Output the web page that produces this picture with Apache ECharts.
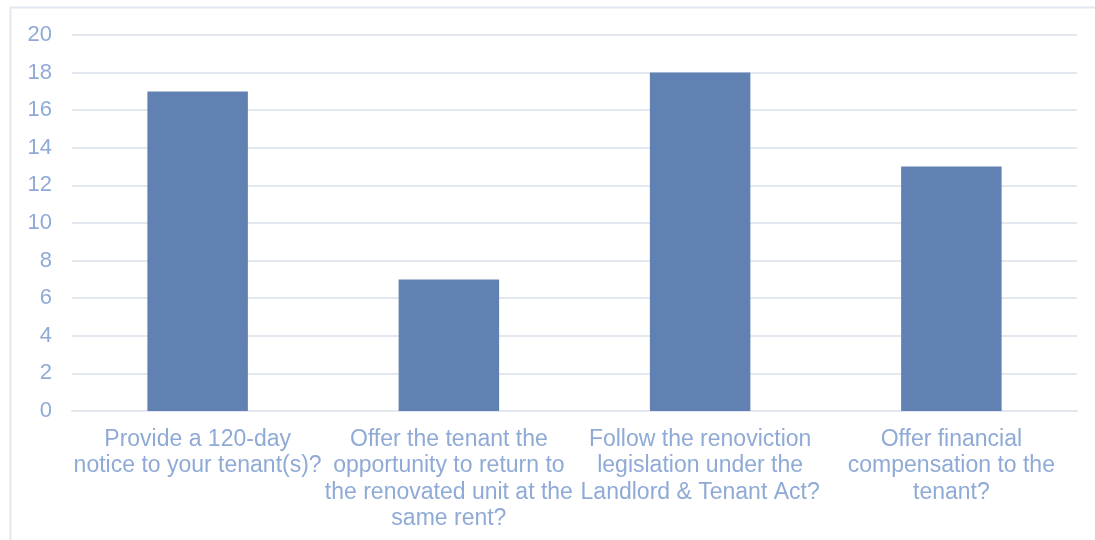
<!DOCTYPE html>
<html>
<head>
<meta charset="utf-8">
<script src="https://cdn.jsdelivr.net/npm/echarts@6/dist/echarts.min.js"></script>
<style>
  html, body { margin: 0; padding: 0; background: #fff; }
  #chart { width: 1095px; height: 540px; }
</style>
</head>
<body>
<div id="chart"></div>
<script>
const categories = [
  'Provide a 120-day\nnotice to your tenant(s)?',
  'Offer the tenant the\nopportunity to return to\nthe renovated unit at the\nsame rent?',
  'Follow the renoviction\nlegislation under the\nLandlord & Tenant Act?',
  'Offer financial\ncompensation to the\ntenant?'
];
const values = [17, 7, 18, 13];

const labelColor = '#8faad6';
const lineColor = '#e2e7f0';

const chart = echarts.init(document.getElementById('chart'));
chart.setOption({
  animation: false,
  textStyle: { fontFamily: 'Liberation Sans, Arial, sans-serif' },
  graphic: [{
    type: 'rect',
    shape: { x: 10.5, y: 7.5, width: 1200, height: 600 },
    style: { fill: 'none', stroke: lineColor, lineWidth: 2 },
    silent: true
  }],
  grid: { left: 72, right: 18, top: 35, bottom: 129 },
  xAxis: {
    type: 'category',
    data: categories,
    axisLine: { lineStyle: { color: lineColor, width: 2 } },
    axisTick: { show: false },
    axisLabel: {
      color: labelColor,
      fontSize: 23,
      lineHeight: 26.5,
      margin: 15,
      interval: 0
    }
  },
  yAxis: {
    type: 'value',
    min: 0,
    max: 20,
    interval: 2,
    axisLine: { show: false },
    axisTick: { show: false },
    splitLine: { lineStyle: { color: lineColor, width: 2 } },
    axisLabel: { color: labelColor, fontSize: 22, margin: 20 }
  },
  series: [{
    type: 'bar',
    data: values,
    barWidth: '40%',
    itemStyle: { color: '#6181b3' }
  }]
});
</script>
</body>
</html>
